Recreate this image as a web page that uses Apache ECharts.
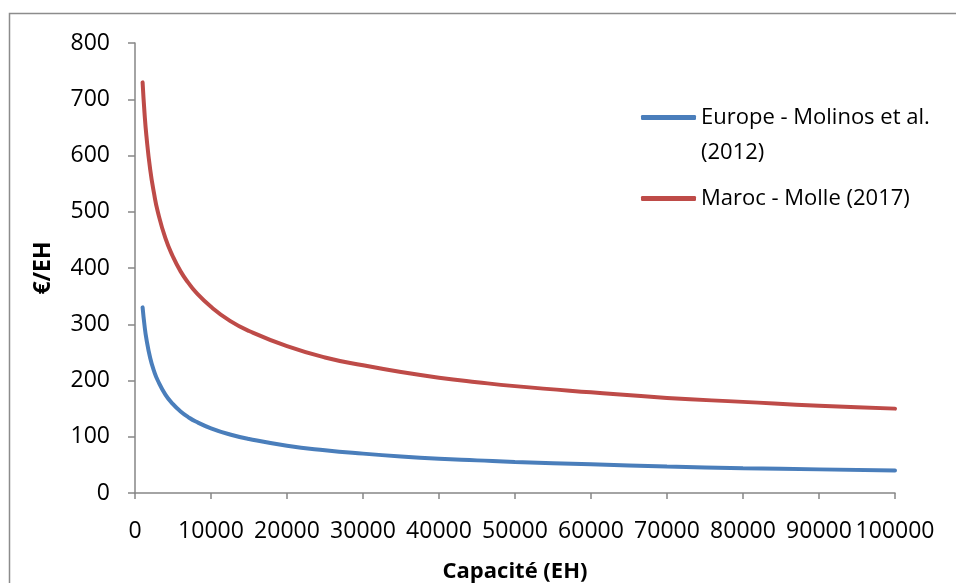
<!DOCTYPE html>
<html><head><meta charset="utf-8">
<script src="https://cdn.jsdelivr.net/npm/echarts@6/dist/echarts.min.js"></script>
<style>html,body{margin:0;padding:0;background:#fff}#c{width:956px;height:583px}</style>
</head><body><div id="c"></div>
<script>
const capacity = [1000,1250,1500,2000,2500,3000,4000,5000,6000,7000,8000,10000,12500,15000,20000,25000,30000,35000,40000,45000,50000,60000,70000,80000,90000,100000];
const europe   = [330,298,274,240,217,200,175,158,145,135,127,115,104,96,84,76,70,65,61,58,55,51,47,44,42,40];
const maroc    = [730,676,635,575,533,500,453,420,394,374,357,331,306,288,261,241,227,215,205,197,190,179,169,162,155,150];
const seriesNames = ['Europe - Molinos et al.', 'Maroc - Molle (2017)'];
const europeNameLine2 = '(2012)';
const xTitle = 'Capacité (EH)';
const yTitle = '€/EH';

const FONT = 'Open Sans';
const pair = (xs, ys) => xs.map((x, i) => [x, ys[i]]);
const chart = echarts.init(document.getElementById('c'));
chart.setOption({
  animation: false,
  textStyle: {fontFamily: FONT},
  grid: {left: 135, right: 61, top: 43, bottom: 90, outerBoundsMode: 'none', containLabel: false},
  graphic: [{type: 'rect', shape: {x: 9.5, y: 13.5, width: 1000, height: 1000}, style: {fill: 'none', stroke: '#8c8c8c', lineWidth: 1.5}, z: -1}],
  xAxis: {
    type: 'value', min: 0, max: 100000, interval: 10000,
    name: xTitle, nameLocation: 'middle', nameGap: 68,
    nameTextStyle: {fontFamily: FONT, fontWeight: 'bold', fontSize: 22, color: '#000'},
    axisLine: {lineStyle: {color: '#868686', width: 1.5}},
    axisTick: {show: true, length: 6, lineStyle: {color: '#868686', width: 1.5}},
    axisLabel: {fontFamily: FONT, fontSize: 23, color: '#000', margin: 27, formatter: v => String(v)},
    splitLine: {show: false}
  },
  yAxis: {
    type: 'value', min: 0, max: 800, interval: 100,
    name: yTitle, nameLocation: 'middle', nameGap: 80, nameRotate: 90,
    nameTextStyle: {fontFamily: FONT, fontWeight: 'bold', fontSize: 23, color: '#000'},
    axisLine: {show: true, lineStyle: {color: '#868686', width: 1.5}},
    axisTick: {show: true, length: 7, lineStyle: {color: '#868686', width: 1.5}},
    axisLabel: {fontFamily: FONT, fontSize: 23, color: '#000', margin: 25, formatter: v => String(v)},
    splitLine: {show: false}
  },
  legend: [
    {data: [seriesNames[0]], left: 641, top: 65, padding: 0, itemWidth: 55, itemHeight: 5, itemGap: 6, icon: 'roundRect',
     formatter: n => '\n' + n + '\n' + europeNameLine2,
     textStyle: {fontFamily: FONT, fontSize: 22, color: '#000', lineHeight: 35}},
    {data: [seriesNames[1]], left: 641, top: 181, padding: 0, itemWidth: 55, itemHeight: 5, itemGap: 6, icon: 'roundRect',
     textStyle: {fontFamily: FONT, fontSize: 22, color: '#000', lineHeight: 35}}
  ],
  series: [
    {name: seriesNames[0], type: 'line', data: pair(capacity, europe), smooth: 0.5, showSymbol: false, symbol: 'none',
     lineStyle: {color: '#4A7EBB', width: 4, cap: 'round'}, itemStyle: {color: '#4A7EBB'}},
    {name: seriesNames[1], type: 'line', data: pair(capacity, maroc), smooth: 0.5, showSymbol: false, symbol: 'none',
     lineStyle: {color: '#BE4B48', width: 4, cap: 'round'}, itemStyle: {color: '#BE4B48'}}
  ]
});
</script></body></html>
